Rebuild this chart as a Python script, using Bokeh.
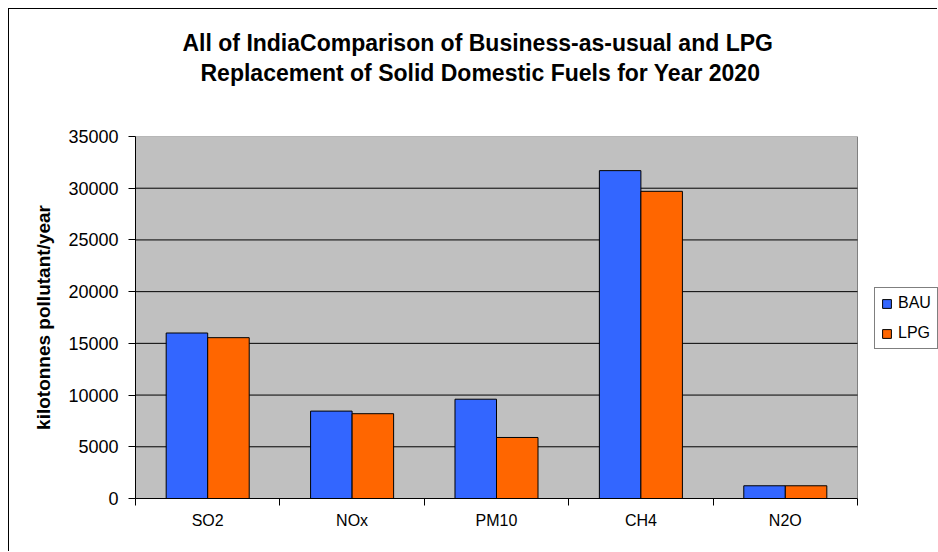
import numpy as np
from bokeh.plotting import figure
from bokeh.models import (Range1d, FixedTicker, Legend, LegendItem, Title)
from bokeh.embed import file_html
from bokeh.resources import INLINE

# ---- data ----
categories = ["SO2", "NOx", "PM10", "CH4", "N2O"]
bau = [16000, 8450, 9600, 31700, 1230]
lpg = [15550, 8200, 5900, 29700, 1230]
series_names = ["BAU", "LPG"]
y_ticks = [0, 5000, 10000, 15000, 20000, 25000, 30000, 35000]
title_lines = ["All of IndiaComparison of Business-as-usual and LPG",
               "Replacement of Solid Domestic Fuels for Year 2020"]
y_label = "kilotonnes pollutant/year"

FONT = "Liberation Sans"
BLUE = "#3366FF"
ORANGE = "#FF6600"
PLOT_GREY = "#C0C0C0"

n = len(categories)
bar_w = 0.2875
centers = np.arange(n) + 0.5

# layout: plot area is 722 px wide; the frame continues to the right edge
# (803 px) so that the legend can sit beside the grey plot area.
DATA_PX, FRAME_PX = 722, 803
x_end = n * FRAME_PX / DATA_PX

p = figure(width=929, height=543, output_backend="svg", toolbar_location=None,
           title=None,
           x_range=Range1d(0, x_end), y_range=Range1d(0, y_ticks[-1]),
           min_border_left=126, min_border_right=0,
           min_border_top=127, min_border_bottom=54)
p.styles = {"margin-left": "8px", "margin-top": "8px",
            "border-left": "1px solid black", "border-top": "1px solid black"}

p.background_fill_color = "white"
p.border_fill_color = "white"
p.outline_line_color = None

# grey plot area spanning the categories and the value range
p.quad(left=[0], right=[n], bottom=[y_ticks[0]], top=[y_ticks[-1]],
       fill_color=PLOT_GREY, line_color="#808080", line_width=1)
# horizontal gridlines across the plot area
grid_vals = y_ticks[1:-1]
p.segment(x0=[0] * len(grid_vals), x1=[n] * len(grid_vals),
          y0=grid_vals, y1=grid_vals, line_color="black", line_width=1)

r1 = p.vbar(x=centers - bar_w / 2, top=bau, width=bar_w, bottom=0,
            fill_color=BLUE, line_color="black", line_width=1)
r2 = p.vbar(x=centers + bar_w / 2, top=lpg, width=bar_w, bottom=0,
            fill_color=ORANGE, line_color="black", line_width=1)

# x axis: labels at category centres, ticks at boundaries
xa = p.xaxis[0]
xa.bounds = (0, n)
xa.ticker = FixedTicker(ticks=list(centers), minor_ticks=list(range(n + 1)))
xa.major_label_overrides = {float(c): lab for c, lab in zip(centers, categories)}
xa.major_tick_line_color = None
xa.major_tick_out = 7
xa.major_tick_in = 0
xa.minor_tick_line_color = "black"
xa.minor_tick_out = 7
xa.minor_tick_in = 0
xa.axis_line_color = "black"
xa.major_label_text_font = FONT
xa.major_label_text_font_size = "16px"
xa.major_label_text_color = "black"
xa.major_label_standoff = 6

ya = p.yaxis[0]
ya.ticker = FixedTicker(ticks=y_ticks, minor_ticks=[])
ya.major_tick_out = 7
ya.major_tick_in = 0
ya.major_tick_line_color = "black"
ya.minor_tick_line_color = None
ya.axis_line_color = "black"
ya.major_label_text_font = FONT
ya.major_label_text_font_size = "18px"
ya.major_label_text_color = "black"
ya.major_label_standoff = 10
ya.axis_label = y_label
ya.axis_label_text_font = FONT
ya.axis_label_text_font_size = "19px"
ya.axis_label_text_font_style = "bold"
ya.axis_label_text_color = "black"
ya.axis_label_standoff = 11

p.xgrid.grid_line_color = None
p.ygrid.grid_line_color = None

# spacer between the plot frame and the two-line title
p.add_layout(Title(text=" ", text_font_size="10px", standoff=37), "above")
# title (two lines), nearest-to-frame first
for txt, off in [(title_lines[1], 65), (title_lines[0], 47)]:
    p.add_layout(Title(text=txt, align="left", offset=off, standoff=2,
                       text_font=FONT, text_font_size="23px",
                       text_font_style="bold", text_color="black"), "above")

legend = Legend(items=[LegendItem(label=series_names[0], renderers=[r1]),
                       LegendItem(label=series_names[1], renderers=[r2])],
                location=(739, 149))
legend.border_line_color = "black"
legend.border_line_width = 1
legend.background_fill_color = "white"
legend.background_fill_alpha = 1
legend.glyph_width = 11
legend.glyph_height = 11
legend.label_standoff = 6
legend.padding = 6
legend.spacing = 12
legend.label_height = 18
legend.margin = 0
legend.label_text_font = FONT
legend.label_text_font_size = "16px"
legend.label_text_color = "black"
p.add_layout(legend)

open("out.html", "w").write(file_html(p, INLINE))
